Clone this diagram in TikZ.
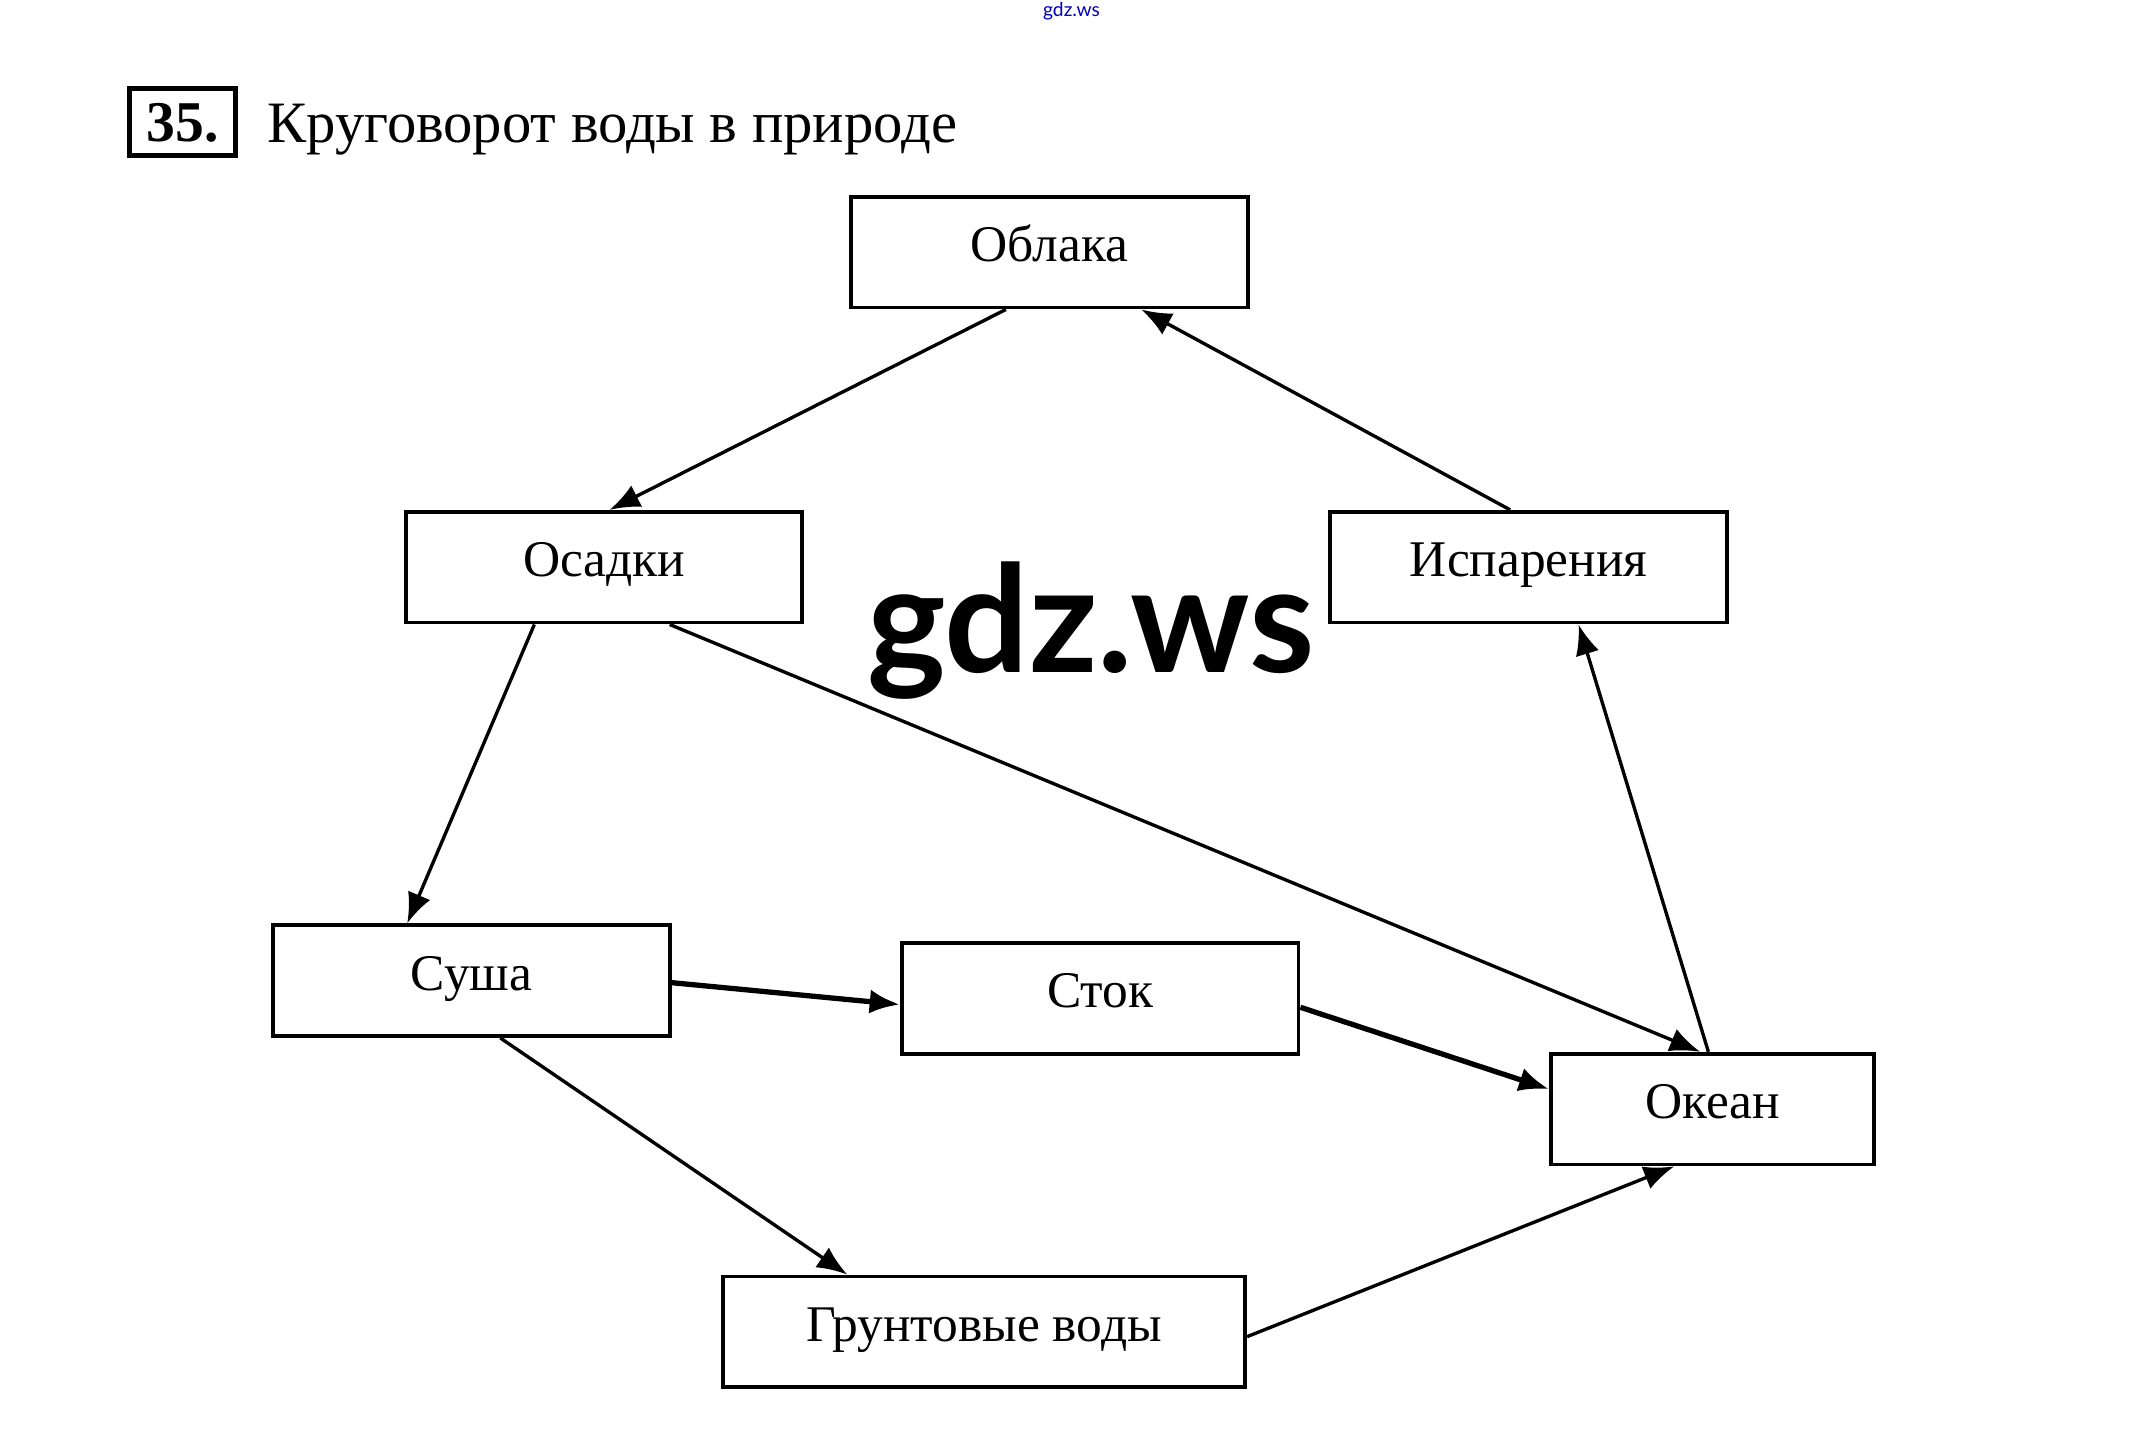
\documentclass[tikz,border=0pt]{standalone}
\usepackage{fontspec}
\setmainfont{Liberation Serif}
\newfontfamily\wmfont{Lato}
\usetikzlibrary{arrows.meta}

\begin{document}
\begin{tikzpicture}[x=0.01cm, y=-0.01cm,
    box/.style={draw, line width=0.8pt, minimum width=2.9cm, minimum height=0.81cm,
      inner sep=0pt, text height=7pt, text depth=3pt, font=\fontsize{10.7}{13}\selectfont},
    flow/.style={-{Latex[length=6.3pt,width=5pt]}, line width=0.7pt},
    thickflow/.style={flow, line width=1.1pt}]
        \useasboundingbox (0,0) rectangle (1568,1045);
        \node[text=blue!75!black, font=\wmfont\fontsize{4}{4}\selectfont] (wmtop) at (784,8) {gdz.ws};
        \node[draw, line width=1pt, minimum width=0.77cm, minimum height=0.49cm, inner sep=0pt,
          font=\bfseries\fontsize{12}{14}\selectfont] (num) at (133.5,89.5) {35.};
        \node[anchor=base west, inner sep=0pt, font=\fontsize{12.2}{14}\selectfont] (title) at (195,104) {Круговорот воды в природе};
        \node[box] (oblaka) at (768,184.5) {Облака};
        \node[box] (osadki) at (442,415) {Осадки};
        \node[box] (ispar) at (1118.5,415) {Испарения};
        \node[box] (susha) at (345,717.5) {Суша};
        \node[box] (stok) at (805,730.5) {Сток};
        \node[box, minimum width=2.36cm] (okean) at (1253,811.5) {Океан};
        \node[box, minimum width=3.82cm] (grunt) at (720,974.5) {Грунтовые воды};
        % watermark
        \node[anchor=base, inner sep=0pt, font=\wmfont\bfseries\fontsize{31}{31}\selectfont] (wm) at (798,492) {gdz.ws};
        % arrows
        \draw[flow] ([xshift=-0.32cm]oblaka.south) -- ([xshift=0.04cm]osadki.north);
        \draw[flow] ([xshift=-0.135cm]ispar.north) -- ([xshift=0.67cm]oblaka.south);
        \draw[flow] ([xshift=-0.51cm]osadki.south) -- ([xshift=-0.47cm]susha.north);
        \draw[flow] ([xshift=0.48cm]osadki.south) -- ([xshift=-0.09cm]okean.north);
        \draw[flow] ([xshift=-0.03cm]okean.north) -- ([xshift=0.365cm]ispar.south);
        \draw[thickflow] ([yshift=-0.015cm]susha.east) -- ([yshift=-0.045cm]stok.west);
        \draw[thickflow] ([yshift=-0.065cm]stok.east) -- ([yshift=0.145cm]okean.west);
        \draw[flow] ([xshift=0.21cm]susha.south) -- ([xshift=-1cm]grunt.north);
        \draw[flow] ([yshift=-0.035cm]grunt.east) -- ([xshift=-0.28cm]okean.south);
\end{tikzpicture}
\end{document}
